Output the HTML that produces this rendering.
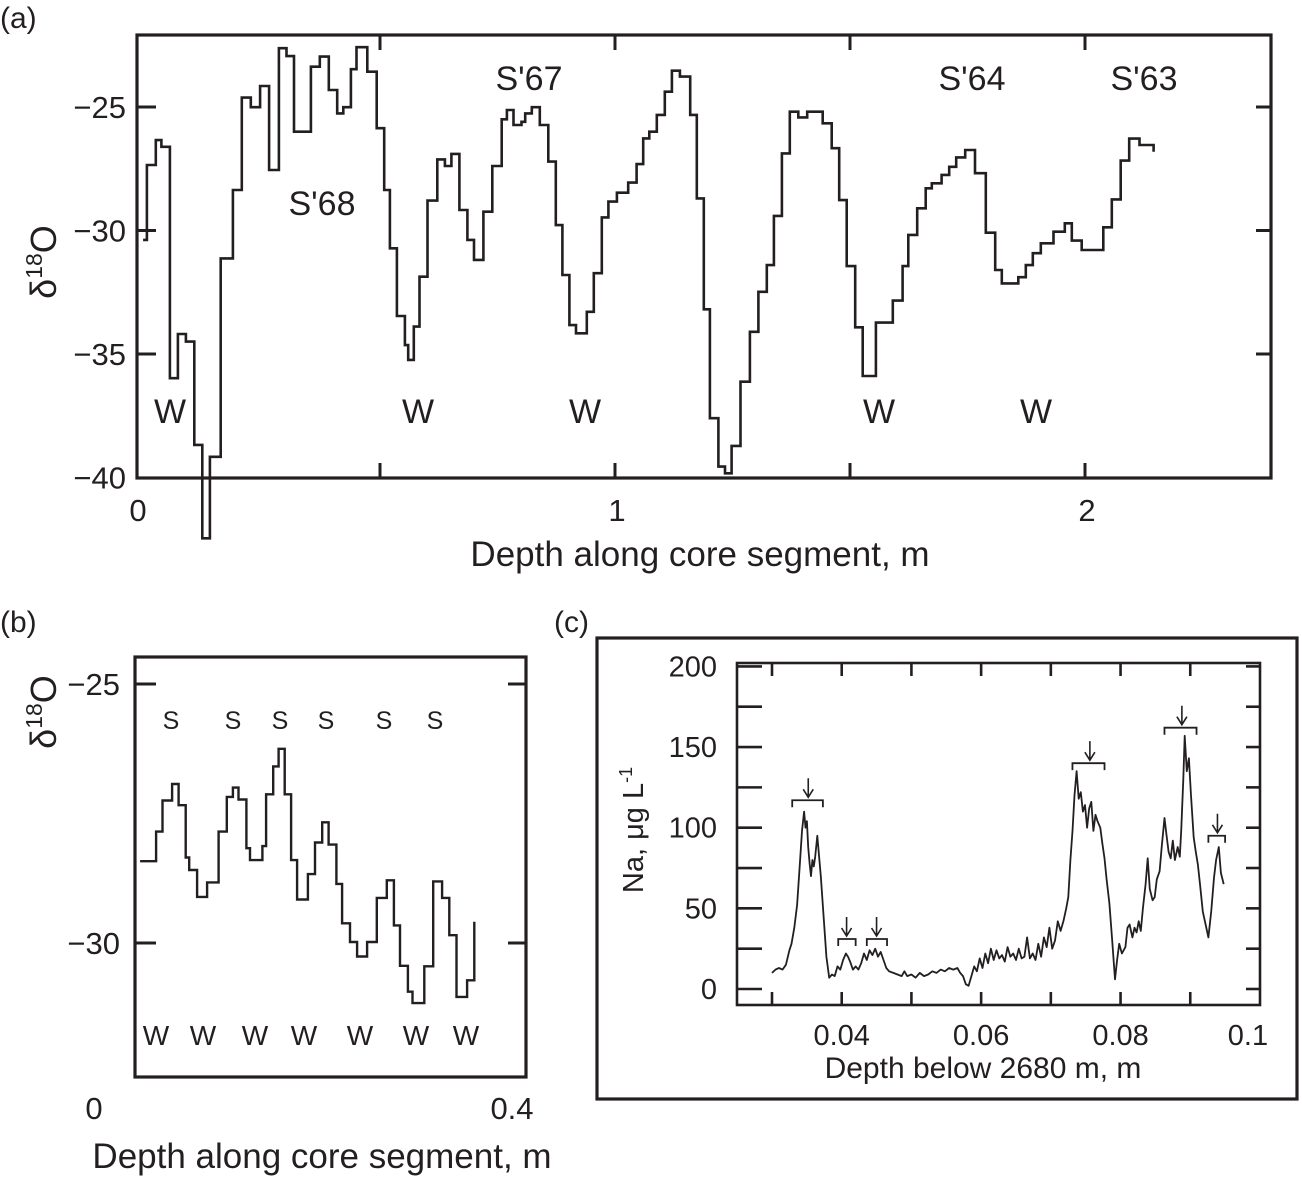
<!DOCTYPE html>
<html><head><meta charset="utf-8"><style>
html,body{margin:0;padding:0;background:#fff}
svg{display:block}
text{font-family:"Liberation Sans",Arial,sans-serif;fill:#231f20}
</style></head><body>
<svg id="fig" width="1302" height="1178" viewBox="0 0 1302 1178" xmlns="http://www.w3.org/2000/svg">
<g id="pa"></g>
<g id="pb"></g>
<g id="pc"></g>
</svg>
<script>
// ---------- Panel (a) data ----------
const aDepth = [-0.004,0.004,0.023,0.035,0.053,0.070,0.087,0.105,0.122,0.138,0.161,0.187,0.206,0.225,0.245,0.264,0.285,0.301,0.317,0.353,0.372,0.391,0.409,0.422,0.438,0.450,0.473,0.493,0.509,0.521,0.536,0.553,0.560,0.572,0.584,0.601,0.622,0.638,0.652,0.669,0.686,0.700,0.720,0.739,0.759,0.770,0.784,0.801,0.809,0.823,0.840,0.858,0.874,0.888,0.903,0.917,0.940,0.955,0.972,0.986,1.004,1.028,1.046,1.060,1.073,1.089,1.106,1.121,1.138,1.160,1.174,1.189,1.202,1.220,1.234,1.248,1.267,1.287,1.305,1.323,1.338,1.355,1.372,1.390,1.409,1.442,1.461,1.477,1.493,1.511,1.527,1.555,1.591,1.612,1.624,1.643,1.661,1.674,1.695,1.711,1.726,1.745,1.766,1.789,1.809,1.823,1.858,1.874,1.889,1.906,1.933,1.957,1.972,1.993,2.039,2.057,2.076,2.094,2.116];
const aVal = [-30.38,-27.35,-26.34,-26.61,-35.98,-34.19,-34.50,-38.68,-42.46,-39.16,-31.13,-28.36,-24.62,-25.01,-24.15,-27.55,-22.62,-22.94,-26.00,-23.37,-22.96,-24.31,-25.26,-25.01,-23.47,-22.58,-23.57,-25.86,-28.36,-30.72,-33.46,-34.64,-35.24,-33.89,-31.87,-28.79,-27.12,-27.39,-26.90,-29.17,-30.38,-31.19,-29.24,-27.39,-25.50,-25.12,-25.73,-25.60,-25.26,-25.01,-25.73,-27.21,-29.78,-31.80,-33.83,-34.16,-33.29,-31.73,-29.47,-28.83,-28.47,-28.06,-27.31,-26.27,-26.00,-25.32,-24.38,-23.53,-23.77,-25.32,-28.70,-33.19,-37.60,-39.56,-39.83,-38.72,-36.12,-34.10,-32.48,-31.40,-29.41,-26.88,-25.19,-25.42,-25.19,-25.66,-26.67,-28.77,-31.44,-33.92,-35.89,-33.73,-32.84,-31.44,-30.18,-29.10,-28.29,-28.09,-27.75,-27.42,-27.04,-26.74,-27.68,-30.09,-31.60,-32.14,-31.89,-31.40,-30.92,-30.52,-30.05,-29.71,-30.41,-30.79,-29.87,-28.74,-27.17,-26.28,-26.54];
const aEndDepth = 2.146;
const aEndVal = -26.81;
const aYTicks = [-25,-30,-35,-40];
const aXTicks = [0,1,2];
const aXMinor = [0.5,1,1.5,2];

// ---------- Panel (b) data ----------
const bDepth = [0.0424,0.0575,0.0635,0.0726,0.0787,0.0854,0.0887,0.0961,0.1055,0.1163,0.1240,0.1298,0.1351,0.1425,0.1459,0.1576,0.1610,0.1677,0.1728,0.1785,0.1846,0.1902,0.2004,0.2071,0.2138,0.2199,0.2272,0.2326,0.2400,0.2467,0.2561,0.2652,0.2746,0.2813,0.2871,0.2945,0.2988,0.3099,0.3183,0.3267,0.3335,0.3402,0.3502];
const bVal = [-28.42,-27.85,-27.25,-26.93,-27.34,-28.35,-28.59,-29.11,-28.83,-27.85,-27.18,-27.00,-27.23,-28.17,-28.40,-28.13,-27.13,-26.59,-26.25,-27.13,-28.40,-29.16,-28.67,-28.06,-27.67,-28.10,-28.86,-29.62,-29.98,-30.26,-29.98,-29.13,-28.79,-29.66,-30.44,-30.94,-31.16,-30.45,-28.81,-29.13,-29.85,-31.04,-30.72];
const bEndDepth = 0.3570;
const bEndVal = -29.59;
const bYTicks = [-25,-30];
const bXTicks = [0,0.4];

// ---------- Panel (c) data ----------
const naDepth = [0.0300,0.0305,0.0310,0.0315,0.0320,0.0325,0.0328,0.0332,0.0336,0.0340,0.0343,0.0346,0.0348,0.0350,0.0352,0.0354,0.0356,0.0358,0.0360,0.0362,0.0365,0.0367,0.0370,0.0374,0.0378,0.0382,0.0386,0.0390,0.0394,0.0398,0.0402,0.0406,0.0409,0.0412,0.0416,0.0420,0.0424,0.0428,0.0432,0.0436,0.0440,0.0444,0.0448,0.0452,0.0456,0.0460,0.0464,0.0468,0.0474,0.0480,0.0486,0.0490,0.0494,0.0500,0.0506,0.0512,0.0518,0.0524,0.0530,0.0536,0.0542,0.0548,0.0554,0.0560,0.0566,0.0570,0.0574,0.0578,0.0582,0.0586,0.0590,0.0594,0.0598,0.0602,0.0606,0.0610,0.0614,0.0618,0.0622,0.0626,0.0630,0.0634,0.0638,0.0642,0.0646,0.0650,0.0654,0.0658,0.0662,0.0666,0.0670,0.0674,0.0678,0.0682,0.0686,0.0690,0.0694,0.0698,0.0702,0.0706,0.0710,0.0714,0.0718,0.0722,0.0725,0.0728,0.0731,0.0734,0.0737,0.0740,0.0743,0.0746,0.0749,0.0752,0.0755,0.0758,0.0761,0.0764,0.0767,0.0771,0.0774,0.0777,0.0780,0.0784,0.0788,0.0792,0.0795,0.0798,0.0802,0.0807,0.0810,0.0813,0.0817,0.0820,0.0823,0.0826,0.0829,0.0832,0.0836,0.0839,0.0842,0.0846,0.0849,0.0852,0.0856,0.0859,0.0863,0.0866,0.0869,0.0872,0.0875,0.0878,0.0882,0.0885,0.0887,0.0890,0.0892,0.0895,0.0898,0.0901,0.0905,0.0908,0.0911,0.0914,0.0918,0.0922,0.0926,0.0930,0.0934,0.0937,0.0941,0.0944,0.0948];
const naValue = [10,12,13,12,15,24,28,38,52,78,98,110,100,104,88,78,70,80,76,82,95,85,70,45,20,7,9,8,14,12,18,22,20,17,12,14,12,16,22,18,24,21,25,20,23,18,13,11,10,9,8,11,8,9,7,10,8,9,11,10,12,11,13,12,13,10,8,3,2,8,14,11,19,13,22,16,25,18,24,19,21,17,26,20,22,18,25,19,20,32,19,22,18,28,20,32,26,38,25,30,42,36,42,50,57,80,98,120,135,118,122,110,114,100,112,116,98,108,104,100,90,81,68,53,30,6,18,28,22,26,38,40,32,38,35,42,36,50,65,81,62,55,57,68,73,88,106,95,85,81,92,80,88,82,98,130,157,135,143,120,94,85,77,65,48,40,32,48,69,80,88,72,65];
const bracketStart = [0.0329,0.0395,0.0436,0.0731,0.0863,0.0926];
const bracketEnd = [0.0373,0.0420,0.0465,0.0777,0.0909,0.0950];
const bracketLevel = [117,31,31,140,162,95];
const arrowDepth = [0.0352,0.0407,0.0450,0.0756,0.0888,0.0939];
const cYTicks = [0,50,100,150,200];
const cYMinor = [25,75,125,175];
const cXTicks = [0.03,0.04,0.05,0.06,0.07,0.08,0.09];
const cXLabels = ["0.04","0.06","0.08","0.1"];
const cXLabelPos = [0.04,0.06,0.08,0.1];

const NS = "http://www.w3.org/2000/svg";
function mk(parent, tag, attrs, txt){
  const e = document.createElementNS(NS, tag);
  for (const k in attrs) e.setAttribute(k, attrs[k]);
  if (txt !== undefined) e.textContent = txt;
  parent.appendChild(e);
  return e;
}
function stepPath(xs, ys, X, Y, endD, endV){
  let d = "M" + X(xs[0]).toFixed(1) + "," + Y(ys[0]).toFixed(1);
  for (let i = 1; i < xs.length; i++){
    d += " H" + X(xs[i]).toFixed(1) + " V" + Y(ys[i]).toFixed(1);
  }
  d += " H" + X(endD).toFixed(1) + " V" + Y(endV).toFixed(1);
  return d;
}

// ===== Panel A =====
(function(){
  const g = document.getElementById('pa');
  const X = d => 145 + d*470;
  const Y = v => 107 + (-25 - v)*24.7;
  const L=137, R=1271, T=35, B=478;
  let t;
  t = mk(g,'text',{x:0,y:28,'font-size':30});
  t.textContent='(a)';
   
  let p = mk(g,'path',{d:stepPath(aDepth,aVal,X,Y,aEndDepth,aEndVal),fill:'none',stroke:'#231f20','stroke-width':2.6,'stroke-linejoin':'miter'});
  
  
  let f = mk(g,'rect',{x:L,y:T,width:R-L,height:B-T,fill:'none',stroke:'#231f20','stroke-width':3.2});
  
  
  aYTicks.forEach(v=>{
    if (v>-40){
      mk(g,'line',{x1:L,x2:L+19,y1:Y(v),y2:Y(v),stroke:'#231f20','stroke-width':3});
      mk(g,'line',{x1:R-15,x2:R,y1:Y(v),y2:Y(v),stroke:'#231f20','stroke-width':3});
    }
    const tl = mk(g,'text',{x:126,y:Y(v)+11,'font-size':31,'text-anchor':'end'},'\u2212'+Math.abs(v));
    
    
  });
  aXMinor.forEach(d=>{
    mk(g,'line',{x1:X(d),x2:X(d),y1:T,y2:T+15,stroke:'#231f20','stroke-width':3});
    mk(g,'line',{x1:X(d),x2:X(d),y1:B-15,y2:B,stroke:'#231f20','stroke-width':3});
  });
  aXTicks.forEach(d=>{
    const tl = mk(g,'text',{x:(d===0?138:X(d)+2),y:521,'font-size':31,'text-anchor':'middle'},String(d));
    
    
  });
  t = mk(g,'text',{x:700,y:566,'font-size':35,'text-anchor':'middle'},'Depth along core segment, m');
   
  t = mk(g,'text',{transform:'translate(56,262) rotate(-90)','font-size':36,'text-anchor':'middle'});
  t.innerHTML='δ<tspan font-size="23" dy="-14">18</tspan><tspan dy="14">O</tspan>';
   
  const ann = [["S'68",322,215],["S'67",529,90],["S'64",972,90],["S'63",1144,90],["W",170,423],["W",418,423],["W",585,423],["W",879,423],["W",1036,423]];
  ann.forEach(a=>{
    const e = mk(g,'text',{x:a[1],y:a[2],'font-size':34,'text-anchor':'middle'},a[0]);
    
    
  });
})();

// ===== Panel B =====
(function(){
  const g = document.getElementById('pb');
  const X = d => 95 + d*1062.5;
  const Y = v => 684 + (-25 - v)*51.8;
  const L=135, R=526, T=657, B=1077;
  let t = mk(g,'text',{x:0,y:632,'font-size':30},'(b)');
   
  let p = mk(g,'path',{d:stepPath(bDepth,bVal,X,Y,bEndDepth,bEndVal),fill:'none',stroke:'#231f20','stroke-width':2.4});
  
  
  let f = mk(g,'rect',{x:L,y:T,width:R-L,height:B-T,fill:'none',stroke:'#231f20','stroke-width':3.2});
  
  
  bYTicks.forEach(v=>{
    mk(g,'line',{x1:L,x2:L+21,y1:Y(v),y2:Y(v),stroke:'#231f20','stroke-width':3});
    mk(g,'line',{x1:R-18,x2:R,y1:Y(v),y2:Y(v),stroke:'#231f20','stroke-width':3});
    const tl = mk(g,'text',{x:120,y:Y(v)+11,'font-size':31,'text-anchor':'end'},'\u2212'+Math.abs(v));
    
    
  });
  bXTicks.forEach(d=>{
    const tl = mk(g,'text',{x:X(d)-(d===0?1:8),y:1119,'font-size':31,'text-anchor':'middle'},String(d));
    
    
  });
  t = mk(g,'text',{x:322,y:1168,'font-size':35,'text-anchor':'middle'},'Depth along core segment, m');
   
  t = mk(g,'text',{transform:'translate(56,712) rotate(-90)','font-size':36,'text-anchor':'middle'});
  t.innerHTML='δ<tspan font-size="23" dy="-14">18</tspan><tspan dy="14">O</tspan>';
   
  [171,233,280,326,384,435].forEach(x=>{
    const e = mk(g,'text',{x:x,y:729,'font-size':25,'text-anchor':'middle'},'S');
    
    
  });
  [156,203,255,304,360,416,466].forEach(x=>{
    const e = mk(g,'text',{x:x,y:1045,'font-size':28,'text-anchor':'middle'},'W');
    
    
  });
})();

// ===== Panel C =====
(function(){
  const g = document.getElementById('pc');
  const X = d => 772 + (d-0.03)*6971;
  const Y = v => 989 - v*1.613;
  const L=737, R=1260, T=663, B=1005;
  let t = mk(g,'text',{x:554,y:632,'font-size':30},'(c)');
   
  let o = mk(g,'rect',{x:597,y:638,width:700,height:461,fill:'none',stroke:'#231f20','stroke-width':3.2});
  
  
  let f = mk(g,'rect',{x:L,y:T,width:R-L,height:B-T,fill:'none',stroke:'#231f20','stroke-width':2.6});
  
  
  cYTicks.forEach(v=>{
    mk(g,'line',{x1:L,x2:L+25,y1:Y(v),y2:Y(v),stroke:'#231f20','stroke-width':2.6});
    mk(g,'line',{x1:R-14,x2:R,y1:Y(v),y2:Y(v),stroke:'#231f20','stroke-width':2.6});
    const tl = mk(g,'text',{x:717,y:Y(v)+10,'font-size':29,'text-anchor':'end'},String(v));
    
    
  });
  cYMinor.forEach(v=>{
    mk(g,'line',{x1:L,x2:L+25,y1:Y(v),y2:Y(v),stroke:'#231f20','stroke-width':2.6});
    mk(g,'line',{x1:R-14,x2:R,y1:Y(v),y2:Y(v),stroke:'#231f20','stroke-width':2.6});
  });
  cXTicks.forEach(d=>{
    mk(g,'line',{x1:X(d),x2:X(d),y1:T,y2:T+13,stroke:'#231f20','stroke-width':2.6});
    mk(g,'line',{x1:X(d),x2:X(d),y1:B-13,y2:B,stroke:'#231f20','stroke-width':2.6});
  });
  cXLabels.forEach((s,i)=>{
    const tl = mk(g,'text',{x:X(cXLabelPos[i])-(i===3?12:0),y:1045,'font-size':29,'text-anchor':'middle'},s);
    
    
  });
  let d = naDepth.map((x,i)=>(i?'L':'M')+X(x).toFixed(1)+','+Y(naValue[i]).toFixed(1)).join(' ');
  let p = mk(g,'path',{d:d,fill:'none',stroke:'#231f20','stroke-width':1.8,'stroke-linejoin':'round'});
  
  
  bracketStart.forEach((s,i)=>{
    const y = Y(bracketLevel[i]);
    const b = mk(g,'path',{d:'M'+X(s)+','+(y+7)+' V'+y+' H'+X(bracketEnd[i])+' V'+(y+7),fill:'none',stroke:'#231f20','stroke-width':1.8});
    
    
    const ax = X(arrowDepth[i]);
    const a = mk(g,'path',{d:'M'+ax+','+(y-22)+' V'+(y-4)+' M'+(ax-5)+','+(y-11)+' L'+ax+','+(y-3)+' L'+(ax+5)+','+(y-11),fill:'none',stroke:'#231f20','stroke-width':1.6});
    
    
  });
  t = mk(g,'text',{x:983,y:1078,'font-size':30,'text-anchor':'middle'},'Depth below 2680 m, m');
   
  t = mk(g,'text',{transform:'translate(643,830) rotate(-90)','font-size':29,'text-anchor':'middle'});
  t.innerHTML='Na, μg L<tspan font-size="18" dy="-11">-1</tspan>';
   
})();
</script>
</body></html>
